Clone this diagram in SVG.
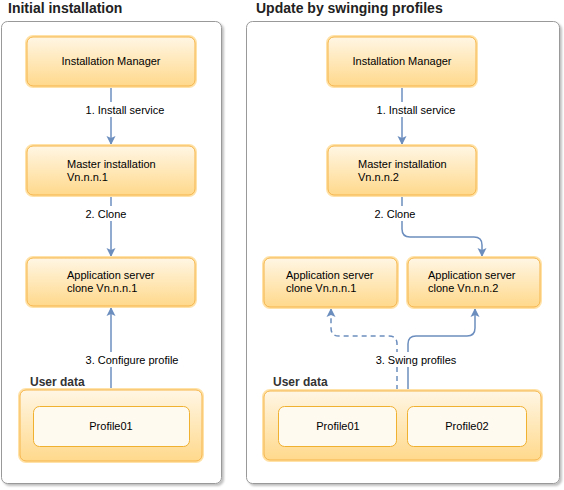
<svg xmlns="http://www.w3.org/2000/svg" width="564" height="490" viewBox="0 0 564 490">
<defs>
<linearGradient id="og" x1="0" y1="0" x2="0" y2="1">
<stop offset="0" stop-color="#fff6e4"/>
<stop offset="1" stop-color="#ffd98c"/>
</linearGradient>
<marker id="ah" markerWidth="10" markerHeight="10" viewBox="0 0 10 10" refX="8" refY="5" orient="auto" markerUnits="userSpaceOnUse">
<path d="M0,0.5 L9,5 L0,9.5 L2,5 Z" fill="#6c8ebf"/>
</marker>
<filter id="sh" x="-5%" y="-5%" width="115%" height="115%">
<feOffset dx="2" dy="2" in="SourceAlpha" result="o"/>
<feGaussianBlur in="o" stdDeviation="0.8" result="b"/>
<feFlood flood-color="#000" flood-opacity="0.25"/>
<feComposite in2="b" operator="in" result="s"/>
<feMerge><feMergeNode in="s"/><feMergeNode in="SourceGraphic"/></feMerge>
</filter>
</defs>
<style>
text{font-family:"Liberation Sans",Arial,sans-serif;font-size:11px;fill:#000}
.title{font-size:14px;font-weight:bold;fill:#222}
.ud{font-size:12px;font-weight:bold;fill:#333}
.panel{fill:#fff;stroke:#999;stroke-width:1}
.node{fill:url(#og);stroke:#f5b54a;stroke-width:1}
.glow{fill:none;stroke:#ffe2a8;stroke-width:4}
.prof{fill:#fffaf0;stroke:#f0b030;stroke-width:1}
.edge{fill:none;stroke:#6c8ebf;stroke-width:1.5}
.dash{stroke-dasharray:5 4}
.lbl{fill:#fff}
</style>
<text class="title" x="8" y="13">Initial installation</text>
<text class="title" x="256" y="13">Update by swinging profiles</text>
<g id="panel-left"><rect class="panel" x="1.5" y="21.5" width="220" height="462" rx="6" filter="url(#sh)"/></g>
<g id="panel-right"><rect class="panel" x="246.5" y="21.5" width="313" height="462" rx="6" filter="url(#sh)"/></g>

<g id="connectors">
<line class="edge" x1="111" y1="86" x2="111" y2="144" marker-end="url(#ah)"/>
<line class="edge" x1="111" y1="195" x2="111" y2="256" marker-end="url(#ah)"/>
<line class="edge" x1="111" y1="390" x2="111" y2="308" marker-end="url(#ah)"/>
<line class="edge" x1="402" y1="86" x2="402" y2="144" marker-end="url(#ah)"/>
<path class="edge" d="M402,195 V229 Q402,237 410,237 H474 Q482,237 482,245 V256" marker-end="url(#ah)"/>
<path class="edge dash" d="M397,390 V344 Q397,336 389,336 H339 Q331,336 331,328 V309" marker-end="url(#ah)"/>
<path class="edge" d="M408,390 V344 Q408,336 416,336 H467 Q475,336 475,328 V309" marker-end="url(#ah)"/>
<rect class="lbl" x="83" y="102" width="84" height="15"/>
<text x="125" y="114" text-anchor="middle">1. Install service</text>
<rect class="lbl" x="84" y="206" width="44" height="15"/>
<text x="106" y="218" text-anchor="middle">2. Clone</text>
<rect class="lbl" x="83" y="352" width="98" height="15"/>
<text x="132" y="364" text-anchor="middle">3. Configure profile</text>
<rect class="lbl" x="375" y="102" width="82" height="15"/>
<text x="416" y="114" text-anchor="middle">1. Install service</text>
<rect class="lbl" x="373" y="206" width="44" height="15"/>
<text x="395" y="218" text-anchor="middle">2. Clone</text>
<rect class="lbl" x="374" y="352" width="84" height="15"/>
<text x="416" y="364" text-anchor="middle">3. Swing profiles</text>
</g>

<g id="im-left">
<rect class="glow" x="27" y="37" width="168" height="49" rx="6"/>
<rect class="node" x="27" y="37" width="168" height="49" rx="6"/>
<text x="111" y="65" text-anchor="middle">Installation Manager</text>
</g>
<g id="master-left">
<rect class="glow" x="27" y="146" width="168" height="49" rx="6"/>
<rect class="node" x="27" y="146" width="168" height="49" rx="6"/>
<text x="67" y="168">Master installation</text>
<text x="67" y="181">Vn.n.n.1</text>
</g>
<g id="clone-left">
<rect class="glow" x="27" y="258" width="168" height="48" rx="6"/>
<rect class="node" x="27" y="258" width="168" height="48" rx="6"/>
<text x="67" y="279">Application server</text>
<text x="67" y="292">clone Vn.n.n.1</text>
</g>
<g id="userdata-left">
<text class="ud" x="30" y="386">User data</text>
<rect class="glow" x="20" y="390" width="182" height="71" rx="6"/>
<rect class="node" x="20" y="390" width="182" height="71" rx="6"/>
<g id="profile01-left">
<rect class="prof" x="33.5" y="406.5" width="156" height="40" rx="6"/>
<text x="111" y="430" text-anchor="middle">Profile01</text>
</g>
</g>

<g id="im-right">
<rect class="glow" x="328" y="37" width="148" height="49" rx="6"/>
<rect class="node" x="328" y="37" width="148" height="49" rx="6"/>
<text x="402" y="65" text-anchor="middle">Installation Manager</text>
</g>
<g id="master-right">
<rect class="glow" x="328" y="146" width="148" height="49" rx="6"/>
<rect class="node" x="328" y="146" width="148" height="49" rx="6"/>
<text x="358" y="168">Master installation</text>
<text x="358" y="181">Vn.n.n.2</text>
</g>
<g id="clone1-right">
<rect class="glow" x="264" y="258" width="133" height="49" rx="6"/>
<rect class="node" x="264" y="258" width="133" height="49" rx="6"/>
<text x="286" y="279">Application server</text>
<text x="286" y="292">clone Vn.n.n.1</text>
</g>
<g id="clone2-right">
<rect class="glow" x="408" y="258" width="132" height="49" rx="6"/>
<rect class="node" x="408" y="258" width="132" height="49" rx="6"/>
<text x="428" y="279">Application server</text>
<text x="428" y="292">clone Vn.n.n.2</text>
</g>
<g id="userdata-right">
<text class="ud" x="273" y="386">User data</text>
<rect class="glow" x="264" y="391" width="277" height="69" rx="6"/>
<rect class="node" x="264" y="391" width="277" height="69" rx="6"/>
<g id="profile01-right">
<rect class="prof" x="278.5" y="406.5" width="118" height="40" rx="6"/>
<text x="338" y="430" text-anchor="middle">Profile01</text>
</g>
<g id="profile02-right">
<rect class="prof" x="407.5" y="406.5" width="119" height="40" rx="6"/>
<text x="467" y="430" text-anchor="middle">Profile02</text>
</g>
</g>
</svg>
